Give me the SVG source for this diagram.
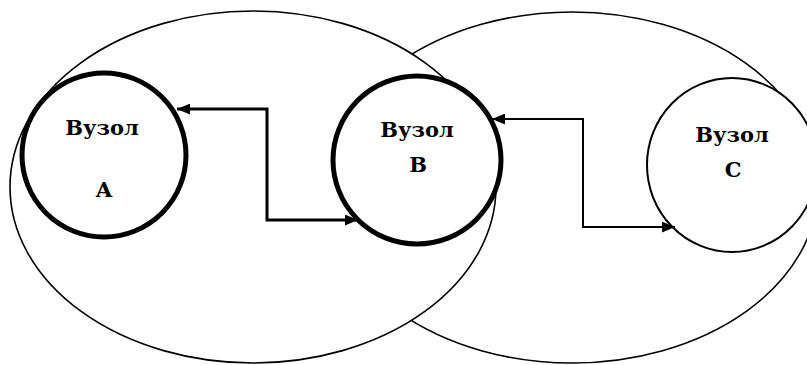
<svg xmlns="http://www.w3.org/2000/svg" width="807" height="365" viewBox="0 0 807 365">
<style>
.bg{fill:#fff}
.ell{fill:#fff;stroke:#000;stroke-width:1.6}
.thick{fill:#fff;stroke:#000;stroke-width:5}
.thin{fill:#fff;stroke:#000;stroke-width:2}
.lbl{font-family:'DejaVu Serif','Liberation Serif',serif;font-weight:700;font-size:21px;fill:#000;text-anchor:middle}
.conn{fill:none;stroke:#000}
</style>
<defs>
<marker id="ah" viewBox="0 0 12 10" refX="12" refY="5" markerWidth="13" markerHeight="11" markerUnits="userSpaceOnUse" orient="auto-start-reverse">
<path d="M0,0 L12,5 L0,10 Z" fill="#000"/>
</marker>
</defs>
<rect class="bg" x="0" y="0" width="807" height="365"/>
<g id="domain-right"><ellipse class="ell" cx="572" cy="187.5" rx="246" ry="175.5"/></g>
<g id="domain-left"><ellipse class="ell" cx="253" cy="187" rx="243" ry="176"/></g>
<g id="node-a">
<circle class="thick" cx="104" cy="155" r="82"/>
<text class="lbl" x="102" y="135">Вузол</text>
<text class="lbl" x="104" y="197">А</text>
</g>
<g id="node-b">
<circle class="thick" cx="417" cy="160" r="84"/>
<text class="lbl" x="417" y="137">Вузол</text>
<text class="lbl" x="418" y="172">В</text>
</g>
<g id="node-c">
<ellipse class="thin" cx="732" cy="165" rx="85" ry="87"/>
<text class="lbl" x="732" y="142">Вузол</text>
<text class="lbl" x="733" y="177">С</text>
</g>
<g id="connectors">
<path class="conn" stroke-width="3" d="M177,109 H267 V220 H358" marker-start="url(#ah)" marker-end="url(#ah)"/>
<path class="conn" stroke-width="2" d="M492,119 H583 V227 H675" marker-start="url(#ah)" marker-end="url(#ah)"/>
</g>
</svg>
